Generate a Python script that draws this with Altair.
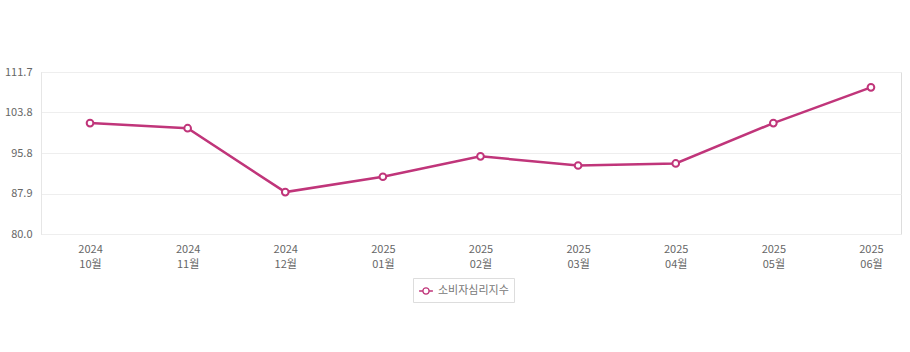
import altair as alt
import pandas as pd

months = ["2024 10월", "2024 11월", "2024 12월", "2025 01월", "2025 02월",
          "2025 03월", "2025 04월", "2025 05월", "2025 06월"]
values = [101.7, 100.7, 88.2, 91.2, 95.2, 93.4, 93.8, 101.7, 108.7]
series_name = "소비자심리지수"
y_ticks = [80.0, 87.925, 95.85, 103.775, 111.7]

df = pd.DataFrame({"month": months, "value": values, "series": [series_name] * len(months)})

COLOR = "#c0357a"
FONT = "Noto Sans CJK KR"

x = alt.X("month:N", sort=months, title=None,
          scale=alt.Scale(type="point", padding=0.405, align=0.62),
          axis=alt.Axis(labelExpr="split(datum.label, ' ')", labelAngle=0,
                        labelFontSize=11, labelColor="#666", labelFont=FONT,
                        labelPadding=9, labelLineHeight=15, ticks=False, domain=False,
                        grid=False))
y = alt.Y("value:Q", title=None,
          scale=alt.Scale(domain=[80, 111.7], nice=False, zero=False),
          axis=alt.Axis(values=y_ticks, format=".1f", labelFontSize=11, labelColor="#666",
                        labelFont=FONT, labelPadding=9, ticks=False, domain=True,
                        domainColor="#e6e6e6", gridColor="#eeeeee", gridWidth=1))

legend_symbol = ("M-1,0L-0.45,0M0.45,0L1,0M0.45,0A0.45,0.45 0 1,1 -0.45,0"
                 "A0.45,0.45 0 1,1 0.45,0Z")

line = alt.Chart(df).mark_line(strokeWidth=2.5).encode(
    x=x, y=y,
    color=alt.Color("series:N", scale=alt.Scale(range=[COLOR]),
                    legend=alt.Legend(title=None, orient="none", legendX=372, legendY=206,
                                      symbolType=legend_symbol, symbolSize=190,
                                      symbolStrokeWidth=1.3, symbolFillColor="white",
                                      labelFont=FONT, labelFontSize=11, labelColor="#777",
                                      strokeColor="#dddddd", padding=5,
                                      labelOffset=4))
)
points = alt.Chart(df).mark_point(filled=True, fill="white", stroke=COLOR, strokeWidth=2,
                                  size=45, opacity=1).encode(x=x, y=y)

chart = (line + points).properties(
    width=860, height=162,
    padding={"left": 41, "top": 72, "right": 9, "bottom": 118},
    autosize=alt.AutoSizeParams(type="none"),
).configure_view(stroke=None).configure(background="white")

chart.save("out.html", embed_options={"renderer": "svg", "actions": False})
